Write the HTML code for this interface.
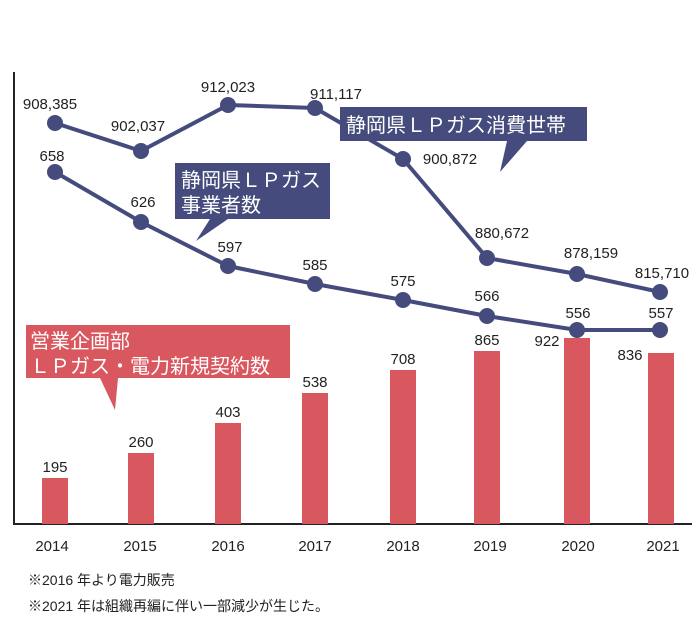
<!DOCTYPE html>
<html><head><meta charset="utf-8"><style>
body{margin:0;background:#fff;}
svg{display:block;font-family:"Liberation Sans","Noto Sans CJK JP",sans-serif;}
</style></head><body>
<svg width="700" height="624" viewBox="0 0 700 624" xmlns="http://www.w3.org/2000/svg">
<rect width="700" height="624" fill="#fff"/>
<line x1="14" y1="72" x2="14" y2="525" stroke="#222" stroke-width="2"/>
<line x1="13" y1="524" x2="692" y2="524" stroke="#222" stroke-width="2"/>
<g fill="#d9575f">
<rect x="42" y="478" width="26" height="46"/>
<rect x="128" y="453" width="26" height="71"/>
<rect x="215" y="423" width="26" height="101"/>
<rect x="302" y="393" width="26" height="131"/>
<rect x="390" y="370" width="26" height="154"/>
<rect x="474" y="351" width="26" height="173"/>
<rect x="564" y="338" width="26" height="186"/>
<rect x="648" y="353" width="26" height="171"/>
</g>
<g fill="none" stroke="#454b7c" stroke-width="4" stroke-linejoin="round">
<polyline points="55,123 141,151 228,105 315,108 403,159 487,258 577,274 660,292"/>
<polyline points="55,172 141,222 228,266 315,284 403,300 487,316 577,330 660,330"/>
</g>
<g fill="#454b7c">
<circle cx="55" cy="123" r="8"/><circle cx="141" cy="151" r="8"/><circle cx="228" cy="105" r="8"/><circle cx="315" cy="108" r="8"/><circle cx="403" cy="159" r="8"/><circle cx="487" cy="258" r="8"/><circle cx="577" cy="274" r="8"/><circle cx="660" cy="292" r="8"/>
<circle cx="55" cy="172" r="8"/><circle cx="141" cy="222" r="8"/><circle cx="228" cy="266" r="8"/><circle cx="315" cy="284" r="8"/><circle cx="403" cy="300" r="8"/><circle cx="487" cy="316" r="8"/><circle cx="577" cy="330" r="8"/><circle cx="660" cy="330" r="8"/>
</g>
<g font-size="15" fill="#222" text-anchor="middle">
<text x="50" y="109">908,385</text><text x="138" y="131">902,037</text><text x="228" y="92">912,023</text><text x="336" y="99">911,117</text>
<text x="450" y="164">900,872</text><text x="502" y="238">880,672</text><text x="591" y="258">878,159</text><text x="662" y="278">815,710</text>
<text x="52" y="161">658</text><text x="143" y="207">626</text><text x="230" y="252">597</text><text x="315" y="270">585</text><text x="403" y="286">575</text><text x="487" y="301">566</text><text x="578" y="318">556</text><text x="661" y="318">557</text>
<text x="55" y="472">195</text><text x="141" y="447">260</text><text x="228" y="417">403</text><text x="315" y="387">538</text><text x="403" y="364">708</text><text x="487" y="345">865</text><text x="547" y="346">922</text><text x="630" y="360">836</text>
<text x="52" y="551">2014</text><text x="140" y="551">2015</text><text x="228" y="551">2016</text><text x="315" y="551">2017</text><text x="403" y="551">2018</text><text x="490" y="551">2019</text><text x="578" y="551">2020</text><text x="663" y="551">2021</text>
</g>
<g font-size="14" fill="#222">
<text x="28" y="585">※2016 年より電力販売</text>
<text x="28" y="611">※2021 年は組織再編に伴い一部減少が生じた。</text>
</g>
<g fill="#454b7c">
<rect x="340" y="107" width="247" height="34"/>
<polygon points="507,141 527,141 500,172"/>
<rect x="175" y="163" width="155" height="56"/>
<polygon points="210,219 228,219 196,241"/>
</g>
<g fill="#d9575f">
<rect x="26" y="325" width="264" height="53"/>
<polygon points="100,378 118,378 115,410"/>
</g>
<g font-size="20" fill="#fff">
<text x="346" y="132">静岡県ＬＰガス消費世帯</text>
<text x="181" y="187">静岡県ＬＰガス</text>
<text x="181" y="212">事業者数</text>
<text x="30" y="348">営業企画部</text>
<text x="30" y="373">ＬＰガス・電力新規契約数</text>
</g>
</svg>
</body></html>
